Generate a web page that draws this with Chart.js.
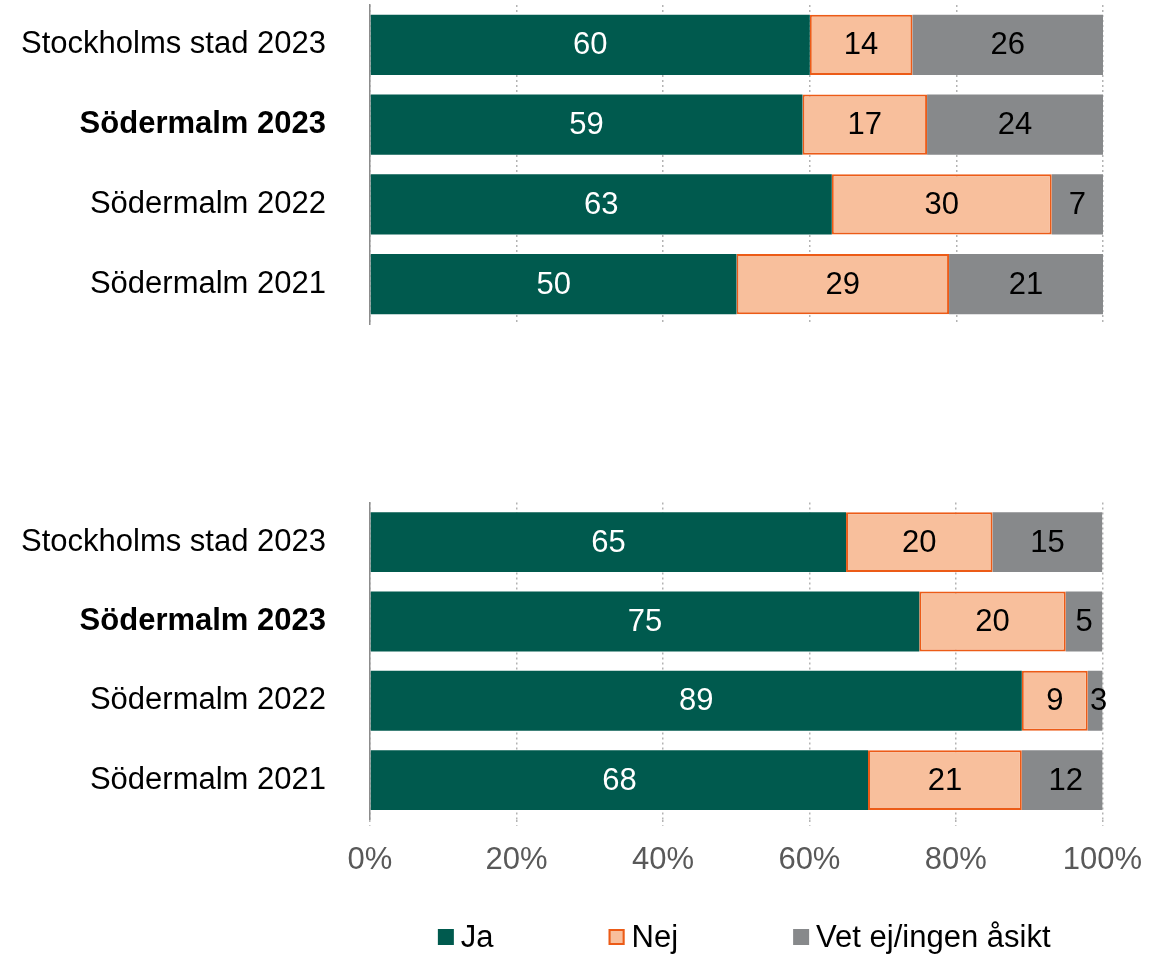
<!DOCTYPE html>
<html>
<head>
<meta charset="utf-8">
<script src="https://cdn.jsdelivr.net/npm/chart.js@4/dist/chart.umd.min.js"></script>
<style>
  body { margin: 0; background: #fff; }
  .wrap { position: absolute; left: 0; width: 1158px; }
  #top { top: 0; height: 340px; }
  #bottom { top: 490px; height: 464px; }
</style>
</head>
<body>
<div class="wrap" id="top"><canvas id="chartTop"></canvas></div>
<div class="wrap" id="bottom"><canvas id="chartBottom"></canvas></div>
<script>
const categories = ['Stockholms stad 2023', 'Södermalm 2023', 'Södermalm 2022', 'Södermalm 2021'];
const seriesNames = ['Ja', 'Nej', 'Vet ej/ingen åsikt'];

// övre diagrammet
const topJa = [60, 59, 63, 50];
const topNej = [14, 17, 30, 29];
const topVet = [26, 24, 7, 21];

// nedre diagrammet
const bottomJa = [65, 75, 89, 68];
const bottomNej = [20, 20, 9, 21];
const bottomVet = [15, 5, 3, 12];

const xTicks = [0, 20, 40, 60, 80, 100];

const FONT = 'Liberation Sans, Arial, sans-serif';
const FS = 31;
const green = '#005a4e', peach = '#f8bf9c', orange = '#ec5b17', grey = '#87898b';

// skriver värdet mitt i varje stapeldel
const barLabels = {
  id: 'barLabels',
  afterDatasetsDraw(chart) {
    const ctx = chart.ctx;
    ctx.save();
    ctx.font = FS + 'px ' + FONT;
    ctx.textAlign = 'center';
    ctx.textBaseline = 'middle';
    chart.data.datasets.forEach((ds, i) => {
      chart.getDatasetMeta(i).data.forEach((bar, j) => {
        const x = (bar.x + bar.base) / 2;
        ctx.fillStyle = i === 0 ? '#fff' : '#000';
        ctx.fillText(ds.data[j], x, bar.y + 1);
      });
    });
    ctx.restore();
  }
};

// egen förklaring under nedre diagrammet
const legendRow = {
  id: 'legendRow',
  afterDraw(chart) {
    const ctx = chart.ctx;
    const box = 16, gapText = 7, gapItem = 115;
    const y = 447;
    ctx.save();
    ctx.font = FS + 'px ' + FONT;
    ctx.textBaseline = 'middle';
    const items = chart.data.datasets.map(ds => ({
      ds, w: box + gapText + ctx.measureText(ds.label).width
    }));
    const total = items.reduce((s, it) => s + it.w, 0) + gapItem * (items.length - 1);
    const area = chart.chartArea;
    let x = (area.left + area.right) / 2 + 8 - total / 2;
    items.forEach((it, i) => {
      ctx.fillStyle = it.ds.backgroundColor;
      ctx.fillRect(x, y - box / 2, box, box);
      if (i === 1) {
        ctx.strokeStyle = orange;
        ctx.lineWidth = 2;
        ctx.strokeRect(x + 1, y - box / 2 + 1, box - 2, box - 2);
      }
      ctx.fillStyle = '#000';
      ctx.fillText(it.ds.label, x + box + gapText, y + 1);
      x += it.w + gapItem;
    });
    ctx.restore();
  }
};

function makeDatasets(ja, nej, vet) {
  return [
    { label: seriesNames[0], data: ja, backgroundColor: green, borderWidth: 0 },
    { label: seriesNames[1], data: nej, backgroundColor: peach, borderColor: orange, borderWidth: 2, borderSkipped: false },
    { label: seriesNames[2], data: vet, backgroundColor: grey, borderWidth: 0 }
  ];
}

function makeChart(id, ja, nej, vet, isBottom) {
  return new Chart(document.getElementById(id), {
    type: 'bar',
    data: { labels: categories, datasets: makeDatasets(ja, nej, vet) },
    options: {
      indexAxis: 'y',
      responsive: true,
      maintainAspectRatio: false,
      animation: false,
      categoryPercentage: 1,
      barPercentage: 0.755,
      layout: {
        padding: isBottom ? { top: 12.5, right: 55, bottom: 59, left: 0 } : { top: 5, right: 55, bottom: 16, left: 0 }
      },
      plugins: {
        legend: { display: false },
        tooltip: { enabled: false }
      },
      scales: {
        x: {
          stacked: true,
          min: 0,
          max: 100,
          afterBuildTicks(axis) { axis.ticks = xTicks.map(v => ({ value: v })); },
          grid: {
            color: '#b3b3b3',
            lineWidth: 1.5,
            drawTicks: isBottom,
            tickLength: 6,
            tickBorderDash: [2, 3],
            tickColor: '#b3b3b3'
          },
          border: { display: false, dash: [2, 3] },
          ticks: {
            display: isBottom,
            color: '#595959',
            font: { family: FONT, size: FS },
            padding: 16,
            callback: v => v + '%'
          }
        },
        y: {
          stacked: true,
          afterFit(axis) {
            axis.width = 370;
            axis.paddingTop = 0;
            axis.paddingBottom = 0;
          },
          grid: { display: false, drawTicks: false },
          border: { display: true, color: '#8c8c8c', width: 1.5 },
          ticks: {
            color: '#000',
            padding: 44,
            font: ctx => ({ family: FONT, size: FS, weight: ctx.index === 1 ? 'bold' : 'normal' })
          }
        }
      }
    },
    plugins: isBottom ? [barLabels, legendRow] : [barLabels]
  });
}

makeChart('chartTop', topJa, topNej, topVet, false);
makeChart('chartBottom', bottomJa, bottomNej, bottomVet, true);
</script>
</body>
</html>
